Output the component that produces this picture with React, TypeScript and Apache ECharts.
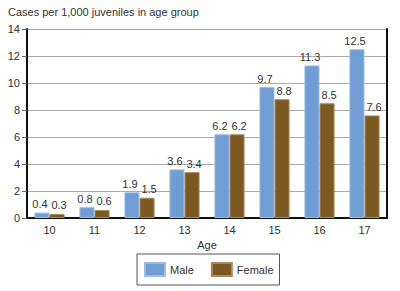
import React, { useEffect, useRef } from "react";
import * as echarts from "echarts";

const categories = ["10", "11", "12", "13", "14", "15", "16", "17"];
const maleValues = [0.4, 0.8, 1.9, 3.6, 6.2, 9.7, 11.3, 12.5];
const femaleValues = [0.3, 0.6, 1.5, 3.4, 6.2, 8.8, 8.5, 7.6];
const titleText = "Cases per 1,000 juveniles in age group";
const xName = "Age";

const FONT = "'Liberation Sans', Arial, Helvetica, sans-serif";

export default function App() {
  const ref = useRef<HTMLDivElement>(null);
  useEffect(() => {
    if (!ref.current) return;
    const chart = echarts.init(ref.current, undefined, { renderer: "svg" });
    const labelCommon = {
      show: true,
      position: "top" as const,
      distance: 3,
      fontSize: 11,
      fontFamily: FONT,
      color: "#333",
      formatter: (p: any) => Number(p.value).toFixed(1),
    };
    chart.setOption({
      animation: false,
      backgroundColor: "#fff",
      textStyle: { fontFamily: FONT },
      title: {
        text: titleText,
        left: 8,
        top: 6,
        padding: 0,
        textStyle: { fontSize: 11, fontWeight: "normal", color: "#333", fontFamily: FONT },
      },
      grid: { left: 27, right: 13, top: 29, bottom: 73, containLabel: false },
      legend: {
        left: 137,
        top: 254,
        padding: [8, 6, 8, 7],
        itemGap: 17,
        itemWidth: 20,
        itemHeight: 13,
        borderColor: "#555",
        borderWidth: 1,
        borderRadius: 0,
        textStyle: { fontSize: 11, color: "#333", fontFamily: FONT },
        data: [
          { name: "Male", icon: "rect" },
          { name: "Female", icon: "rect" },
        ],
      },
      xAxis: {
        type: "category",
        data: categories,
        name: xName,
        nameLocation: "middle",
        nameGap: 21,
        nameTextStyle: { fontSize: 11, color: "#333", fontFamily: FONT },
        axisLine: { show: true, lineStyle: { color: "#111", width: 2 } },
        axisTick: { show: false },
        axisLabel: { fontSize: 11, color: "#333", margin: 6, fontFamily: FONT },
      },
      yAxis: [
        {
          type: "value",
          min: 0,
          max: 14,
          interval: 2,
          axisLine: { show: true, lineStyle: { color: "#111", width: 2 } },
          axisTick: { show: true, length: 5, lineStyle: { color: "#666" } },
          axisLabel: { fontSize: 11, color: "#333", margin: 7, fontFamily: FONT },
          splitLine: { show: true, lineStyle: { color: "#aaa", width: 1 } },
        },
        {
          type: "value",
          position: "right",
          min: 0,
          max: 14,
          interval: 2,
          axisLine: { show: true, lineStyle: { color: "#111", width: 2 } },
          axisTick: { show: false },
          axisLabel: { show: false },
          splitLine: { show: false },
        },
      ],
      series: [
        {
          name: "Male",
          type: "bar",
          data: maleValues,
          barGap: "0%",
          barCategoryGap: "33%",
          itemStyle: { color: "#709dd3", borderColor: "#9dbde4", borderWidth: 1 },
          label: { ...labelCommon, offset: [-2, 0] },
        },
        {
          name: "Female",
          type: "bar",
          data: femaleValues,
          barGap: "0%",
          barCategoryGap: "33%",
          itemStyle: { color: "#7c5822", borderColor: "#a88c5c", borderWidth: 1 },
          label: { ...labelCommon, offset: [2, 0] },
        },
      ],
    });
    return () => chart.dispose();
  }, []);
  return (
    <div
      ref={ref}
      style={{ position: "absolute", left: 0, top: 0, width: 400, height: 291 }}
    />
  );
}
